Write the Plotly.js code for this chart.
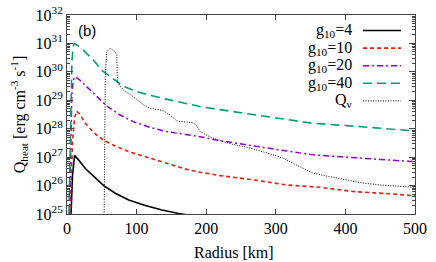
<!DOCTYPE html>
<html><head><meta charset="utf-8">
<script src="https://cdn.plot.ly/plotly-3.0.1.min.js"></script>
<style>html,body{margin:0;padding:0;background:#fff}#plot{width:436px;height:262px}</style>
</head><body><div id="plot"></div>
<script>
// Radius [km] and log10(Q_heat)
const r_g4   = [2, 5, 8, 10, 11, 13, 16.8, 26.3, 40.7, 52.7, 69.4, 88.6, 112.5, 136.5, 160.5, 175, 200];
const lq_g4  = [21, 24.5, 26.4, 26.95, 27.07, 27.0, 26.9, 26.6, 26.26, 26.0, 25.73, 25.49, 25.3, 25.14, 25.02, 24.96, 24.85];

const r_g10  = [2, 5, 8, 11, 14, 20, 26, 38, 52, 71, 89, 114, 137, 172, 191, 220, 268, 316, 363, 411, 459, 500];
const lq_g10 = [22, 25.5, 27.6, 28.4, 28.62, 28.45, 28.2, 27.87, 27.6, 27.37, 27.19, 27.0, 26.84, 26.57, 26.47, 26.35, 26.2, 26.02, 25.94, 25.79, 25.72, 25.64];

const r_g20  = [2, 5, 7, 9, 11.5, 18, 28, 43, 57, 75, 95, 119, 143, 170, 191, 215, 260, 306, 354, 402, 450, 500];
const lq_g20 = [23, 27, 29.2, 29.7, 29.83, 29.72, 29.48, 29.13, 28.8, 28.5, 28.25, 28.05, 27.9, 27.8, 27.72, 27.6, 27.42, 27.25, 27.08, 26.99, 26.92, 26.84];

const r_g40  = [2, 5, 7, 8.5, 10.5, 15, 23, 38, 50, 66, 80, 100, 120, 143, 170, 191, 217, 260, 306, 353, 402, 450, 500];
const lq_g40 = [24, 28, 30.3, 30.85, 31.0, 30.93, 30.77, 30.42, 30.05, 29.77, 29.5, 29.31, 29.17, 29.04, 28.9, 28.78, 28.68, 28.52, 28.34, 28.19, 28.11, 28.01, 27.92];

const r_qnu  = [53, 53.5, 55, 57, 62, 69, 71.5, 72.5, 74, 81, 95, 110, 119, 138, 148, 158, 170, 181, 186, 189, 191, 205, 217, 238, 263, 287, 310, 335, 353, 378, 402, 425, 450, 475, 500];
const lq_qnu = [24, 26, 29.8, 30.7, 30.83, 30.71, 30.62, 29.65, 29.58, 29.36, 29.13, 28.84, 28.72, 28.64, 28.48, 28.27, 28.23, 28.21, 28.12, 27.98, 27.9, 27.72, 27.6, 27.45, 27.32, 27.15, 26.97, 26.66, 26.44, 26.31, 26.2, 26.09, 26.02, 25.98, 25.94];

const seriesNames = ['g<sub>10</sub>=4', 'g<sub>10</sub>=10', 'g<sub>10</sub>=20', 'g<sub>10</sub>=40', 'Q<sub>ν</sub>'];
const xTicks = [0, 100, 200, 300, 400, 500];
const yExps = [25, 26, 27, 28, 29, 30, 31, 32];

const SERIF = "Times New Roman, Liberation Serif, DejaVu Serif, serif";
const SANS = "Liberation Sans, Arial, Helvetica, sans-serif";

const toQ = a => a.map(v => Math.pow(10, v));
const styles = [
  {color: '#000000', width: 1.6, dash: 'solid'},
  {color: '#e51e10', width: 1.6, dash: '4px,3px'},
  {color: '#9400d3', width: 1.5, dash: '6px,3px,2px,3px'},
  {color: '#009e73', width: 1.6, dash: '9px,5px'},
  {color: '#000000', width: 1.0, dash: '1px,1.5px'}
];
const xs = [r_g4, r_g10, r_g20, r_g40, r_qnu];
const ys = [lq_g4, lq_g10, lq_g20, lq_g40, lq_qnu];
const traces = xs.map((x, i) => ({
  x: x, y: toQ(ys[i]), type: 'scatter', mode: 'lines',
  line: styles[i], name: seriesNames[i], showlegend: false, hoverinfo: 'skip'
}));

const minorVals = [];
for (let e = 25; e < 32; e++) for (let m = 2; m <= 9; m++) minorVals.push(m * Math.pow(10, e));

const L = 67, R = 415, T = 15, B = 214, W = 436, H = 262;
const px2x = p => (p - L) / (R - L);
const py2y = p => (B - p) / (B - T);

const annotations = [];
const shapes = [];
const rowY0 = 30.5, rowDy = 17.6;
seriesNames.forEach((n, i) => {
  const py = rowY0 + i * rowDy;
  annotations.push({xref: 'paper', yref: 'paper', x: px2x(354), y: py2y(py), xanchor: 'right', yanchor: 'middle',
    text: n, showarrow: false, font: {family: SERIF, size: 16, color: '#000'}});
  shapes.push({type: 'line', xref: 'paper', yref: 'paper', x0: px2x(363), x1: px2x(401), y0: py2y(py), y1: py2y(py),
    line: styles[i]});
});
annotations.push({xref: 'paper', yref: 'paper', x: px2x(76), y: py2y(30), xanchor: 'left', yanchor: 'middle',
  text: '(b)', showarrow: false, font: {family: SANS, size: 15, color: '#000'}});
annotations.push({xref: 'paper', yref: 'paper', x: px2x(234), y: py2y(252), xanchor: 'center', yanchor: 'middle',
  text: 'Radius [km]', showarrow: false, font: {family: SERIF, size: 16, color: '#000'}});

const layout = {
  width: W, height: H,
  margin: {l: L, r: W - R, t: T, b: H - B, pad: 0},
  paper_bgcolor: '#fff', plot_bgcolor: '#fff',
  showlegend: false,
  font: {family: SERIF, size: 16, color: '#000'},
  xaxis: {
    range: [0, 500], tickmode: 'array', tickvals: xTicks, ticktext: xTicks.map(String),
    ticks: 'inside', ticklen: 5, tickcolor: '#444', tickwidth: 1,
    showline: true, linecolor: '#444', linewidth: 1, mirror: 'allticks',
    showgrid: false, zeroline: false,
    tickfont: {family: SERIF, size: 16, color: '#000'}
  },
  yaxis: {
    type: 'log', range: [25, 32], tickmode: 'array',
    tickvals: yExps.map(e => Math.pow(10, e)),
    ticktext: yExps.map(e => '10<sup>' + e + '</sup>'),
    ticks: 'inside', ticklen: 6, tickcolor: '#444', tickwidth: 1,
    minor: {tickmode: 'array', tickvals: minorVals, ticks: 'inside', ticklen: 3, tickcolor: '#444', showgrid: false},
    showline: true, linecolor: '#444', linewidth: 1, mirror: 'allticks',
    showgrid: false, zeroline: false,
    tickfont: {family: SERIF, size: 16, color: '#000'},
    title: {text: 'Q<sub>heat</sub> [erg cm<sup>-3</sup> s<sup>-1</sup>]', standoff: 6,
      font: {family: SERIF, size: 16, color: '#000'}}
  },
  annotations: annotations,
  shapes: shapes
};
Plotly.newPlot('plot', traces, layout, {staticPlot: true, displayModeBar: false});
</script></body></html>
